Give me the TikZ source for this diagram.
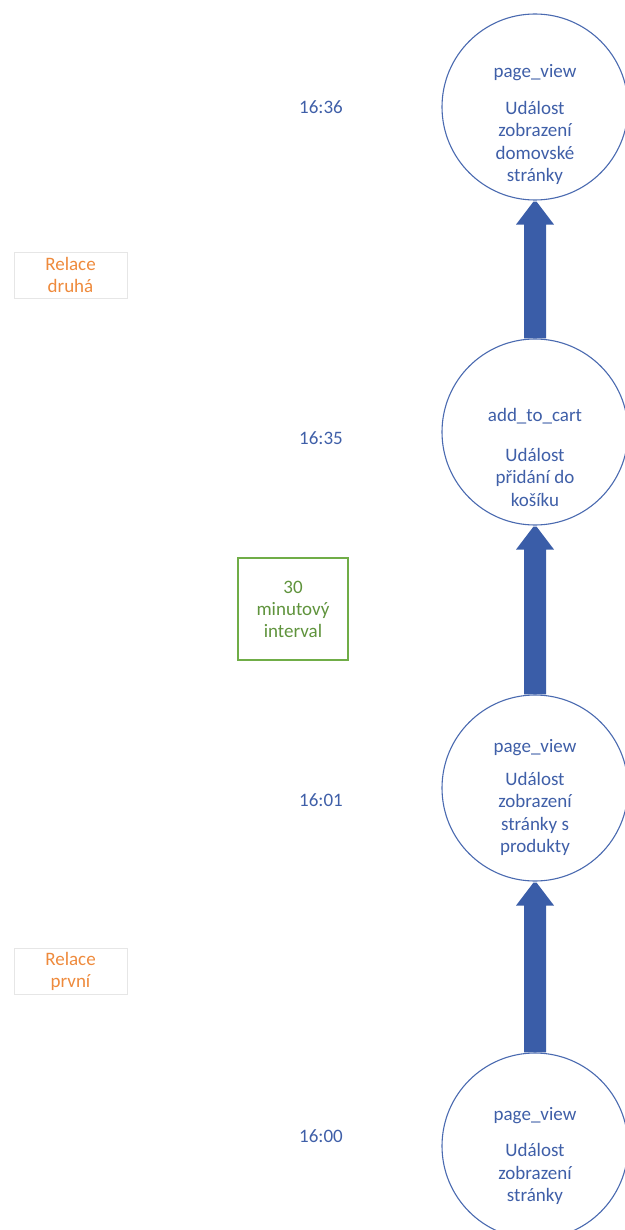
\documentclass[tikz,border=0pt]{standalone}
\usepackage{fontspec}
\setmainfont{Carlito}
\usetikzlibrary{arrows.meta,calc}
\definecolor{txtblue}{HTML}{3F5FA8}
\definecolor{circ}{HTML}{4A6AB0}
\definecolor{arrblue}{HTML}{3A5DA8}
\definecolor{orng}{HTML}{EE8A3C}
\definecolor{grn}{HTML}{70AD47}
\definecolor{lgray}{HTML}{E6E6E6}
\tikzset{
  event/.style={circle, draw=circ, line width=1.1pt, fill=white, minimum size=186pt, inner sep=0pt},
  evtext/.style={text=txtblue, align=center, inner sep=0pt, font=\fontsize{19}{22.5}\selectfont},
  timelbl/.style={text=txtblue, font=\fontsize{19}{22}\selectfont},
  relbox/.style={draw=lgray, line width=0.8pt, minimum width=113pt, minimum height=46pt, inner sep=0pt, text=orng, align=center, font=\fontsize{19}{22}\selectfont},
  intbox/.style={draw=grn, line width=1.2pt, minimum width=110pt, minimum height=102pt, inner sep=0pt, text=grn!85!black, align=center, font=\fontsize{19}{22}\selectfont},
  flow/.style={draw=none, fill=arrblue}
}
\begin{document}
\begin{tikzpicture}[x=1pt,y=-1pt]
\useasboundingbox (0,0) rectangle (624,1230);
% circles
\node[event] (e4) at (535,107) {};
\node[event] (e3) at (535,432) {};
\node[event] (e2) at (535,788) {};
\node[event] (e1) at (535,1146) {};
% circle texts
\node[evtext] (e4a) at (535,73) {page\_view};
\node[evtext] (e4b) at (535,143) {Událost\\zobrazení\\domovské\\stránky};
\node[evtext] (e3a) at (535,416) {add\_to\_cart};
\node[evtext] (e3b) at (535,477) {Událost\\přidání do\\košíku};
\node[evtext] (e2a) at (535,748) {page\_view};
\node[evtext] (e2b) at (535,814) {Událost\\zobrazení\\stránky s\\produkty};
\node[evtext] (e1a) at (535,1116) {page\_view};
\node[evtext] (e1b) at (535,1174) {Událost\\zobrazení\\stránky};
% arrows
\foreach \a/\b in {e3/e4, e2/e3, e1/e2}{
  \path (\a.north) coordinate (s) (\b.south) coordinate (t);
  \fill[flow] ($(s)+(-11,0)$) -- ($(t)+(-11,24)$) -- ($(t)+(-19,24)$) -- ($(t)+(-1.5,1)$) -- ($(t)+(1.5,1)$) -- ($(t)+(19,24)$) -- ($(t)+(11,24)$) -- ($(s)+(11,0)$) -- cycle;
}
% times
\node[timelbl] (t4) at (321,107) {16:36};
\node[timelbl] (t3) at (321,438) {16:35};
\node[timelbl] (t2) at (321,800) {16:01};
\node[timelbl] (t1) at (321,1136) {16:00};
% boxes
\node[relbox] (r2) at (70.5,275) {Relace\\druhá};
\node[intbox] (iv) at (293,609) {30\\minutový\\interval};
\node[relbox] (r1) at (70.5,971.5) {Relace\\první};
\end{tikzpicture}
\end{document}
